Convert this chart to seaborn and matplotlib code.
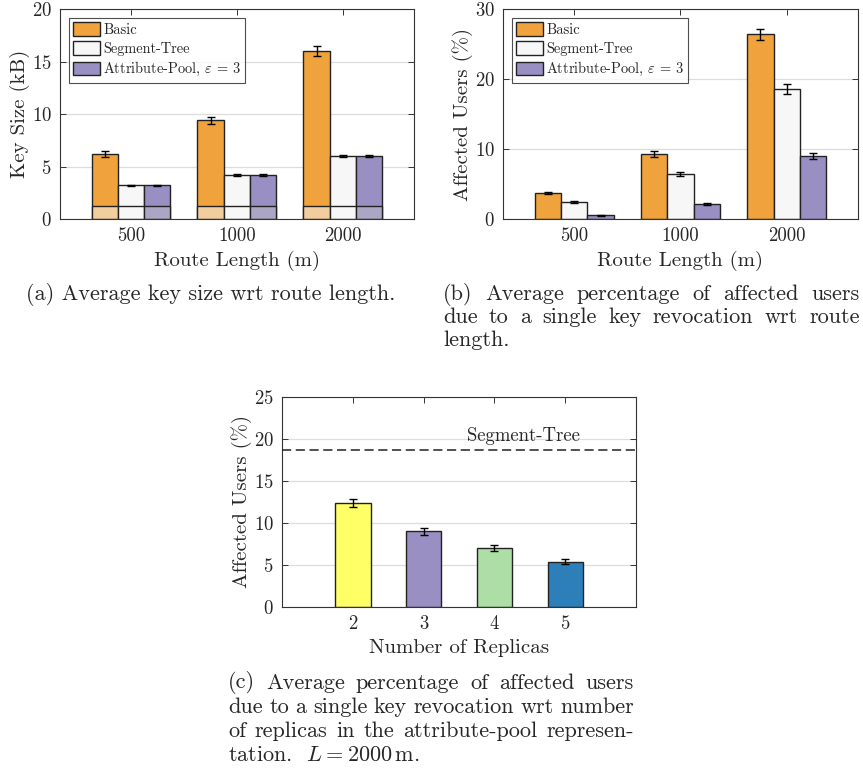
import numpy as np
import pandas as pd
import matplotlib
matplotlib.use("Agg")
import matplotlib.pyplot as plt
import seaborn as sns
from matplotlib.patches import Patch
from matplotlib.container import BarContainer

sns.set_theme(style="white")
plt.rcParams['font.family'] = ['cmr10', 'DejaVu Serif']
plt.rcParams['mathtext.fontset'] = 'cm'
plt.rcParams['axes.unicode_minus'] = False
plt.rcParams['axes.formatter.use_mathtext'] = True

# ---------------- data ----------------
route_lengths = ["500", "1000", "2000"]
methods = ["Basic", "Segment-Tree", "Attribute-Pool, $\\varepsilon$ = 3"]

key_basic = [6.2, 9.4, 16.0]
key_seg = [3.2, 4.2, 6.0]
key_attr = [3.2, 4.2, 6.0]
key_basic_err = [0.3, 0.35, 0.45]
key_seg_err = [0.08, 0.1, 0.12]
key_attr_err = [0.08, 0.1, 0.12]
key_base = [1.2, 1.2, 1.2]

aff_basic = [3.7, 9.3, 26.4]
aff_seg = [2.4, 6.4, 18.6]
aff_attr = [0.55, 2.2, 9.0]
aff_basic_err = [0.2, 0.4, 0.8]
aff_seg_err = [0.12, 0.3, 0.7]
aff_attr_err = [0.08, 0.15, 0.4]

replicas = ["2", "3", "4", "5"]
rep_aff = [12.4, 9.0, 7.0, 5.4]
rep_err = [0.5, 0.4, 0.35, 0.3]
segtree_ref = 18.7

caption_a = ["(a) Average key size wrt route length."]
caption_b = ["(b) Average percentage of affected users",
             "due to a single key revocation wrt route",
             "length."]
caption_c = ["(c) Average percentage of affected users",
             "due to a single key revocation wrt number",
             "of replicas in the attribute-pool represen-",
             "tation.  $L = 2000\\,\\mathrm{m}$."]

col_basic = "#F0A33C"
col_seg = "#F7F7F7"
col_attr = "#9A8FC3"
col_basic_light = "#F2CE9E"
col_seg_light = "#F7F7F7"
col_attr_light = "#ABA6C4"
rep_colors = ["#FFFF66", "#9A8FC3", "#ADDEA5", "#2C7FB8"]

EDGE = "#222222"
SPINE = "#333333"
W, H = 863, 771


def bar_containers(ax):
    return [c for c in ax.containers if isinstance(c, BarContainer)]


def style_axes(ax, ymax, ystep):
    ax.set_ylim(0, ymax)
    ax.set_yticks(np.arange(0, ymax + 0.01, ystep))
    ax.yaxis.grid(True, color="#DDDDDD", lw=0.9)
    ax.xaxis.grid(False)
    ax.set_axisbelow(True)
    for s in ax.spines.values():
        s.set_visible(True)
        s.set_color(SPINE)
        s.set_linewidth(0.8)
    ax.tick_params(direction="in", top=True, right=True, left=True, bottom=True,
                   length=4, width=0.7, color=SPINE, labelsize=13.5, pad=6)


def grouped(ax, vals, errs, colors, light, base):
    rows = []
    for m, v in zip(methods, vals):
        for r, y in zip(route_lengths, v):
            rows.append({"route": r, "method": m, "value": y})
    df = pd.DataFrame(rows)
    sns.barplot(data=df, x="route", y="value", hue="method", order=route_lengths,
                hue_order=methods, palette=colors, width=0.745, errorbar=None,
                edgecolor=EDGE, linewidth=1.0, saturation=1, ax=ax, legend=False)
    conts = bar_containers(ax)
    if base is not None:
        rows2 = []
        for m in methods:
            for r, y in zip(route_lengths, base):
                rows2.append({"route": r, "method": m, "value": y})
        df2 = pd.DataFrame(rows2)
        sns.barplot(data=df2, x="route", y="value", hue="method", order=route_lengths,
                    hue_order=methods, palette=light, width=0.745, errorbar=None,
                    edgecolor=EDGE, linewidth=1.0, saturation=1, ax=ax, legend=False)
    for cont, e in zip(conts, errs):
        xs = [p.get_x() + p.get_width() / 2 for p in cont.patches]
        ys = [p.get_height() for p in cont.patches]
        ax.errorbar(xs, ys, yerr=e, fmt="none", ecolor="black", elinewidth=1.0,
                    capsize=3, capthick=1.0, zorder=5)
    ax.set_xlim(-0.67, 2.67)
    ax.set_xlabel("Route Length (m)", fontsize=15)
    handles = [Patch(facecolor=c, edgecolor=EDGE, linewidth=1.0) for c in colors]
    leg = ax.legend(handles, methods, loc="upper left", fontsize=10.4,
                    frameon=True, fancybox=False, edgecolor="#222222",
                    handlelength=1.85, handleheight=1.05, handletextpad=0.25,
                    labelspacing=0.3, borderpad=0.3, borderaxespad=0.6)
    leg.get_frame().set_linewidth(0.8)


fig = plt.figure(figsize=(8.63, 7.71), dpi=100)

# (a)
ax1 = fig.add_axes([0.0695, 0.716, 0.4102, 0.272])
style_axes(ax1, 20, 5)
grouped(ax1, [key_basic, key_seg, key_attr], [key_basic_err, key_seg_err, key_attr_err],
        [col_basic, col_seg, col_attr], [col_basic_light, col_seg_light, col_attr_light], key_base)
ax1.set_ylabel("Key Size (kB)", fontsize=15, labelpad=1)

# (b)
ax2 = fig.add_axes([0.5828, 0.716, 0.4114, 0.272])
style_axes(ax2, 30, 10)
grouped(ax2, [aff_basic, aff_seg, aff_attr], [aff_basic_err, aff_seg_err, aff_attr_err],
        [col_basic, col_seg, col_attr], None, None)
ax2.set_ylabel("Affected Users (%)", fontsize=15, labelpad=1)

# (c)
ax3 = fig.add_axes([0.3268, 0.2127, 0.4102, 0.2724])
style_axes(ax3, 25, 5)
dfc = pd.DataFrame({"rep": replicas, "value": rep_aff})
sns.barplot(data=dfc, x="rep", y="value", hue="rep", order=replicas, hue_order=replicas,
            palette=rep_colors, width=0.5, errorbar=None, edgecolor=EDGE, linewidth=1.0,
            saturation=1, ax=ax3, legend=False)
patches3 = [p for c in bar_containers(ax3) for p in c.patches if p.get_height() > 0]
patches3.sort(key=lambda p: p.get_x())
xs3 = [p.get_x() + p.get_width() / 2 for p in patches3]
ys3 = [p.get_height() for p in patches3]
ax3.errorbar(xs3, ys3, yerr=rep_err, fmt="none", ecolor="black",
             elinewidth=1.0, capsize=3, capthick=1.0, zorder=5)
ax3.set_xlim(-1, 4)
ax3.axhline(segtree_ref, color="#222222", lw=1.1, ls=(0, (6, 3)), zorder=4)
ax3.text(2.41, 19.3, "Segment-Tree", ha="center", va="bottom", fontsize=13.5)
ax3.set_xlabel("Number of Replicas", fontsize=15)
ax3.set_ylabel("Affected Users (%)", fontsize=15, labelpad=1)

# captions (justified like the LaTeX source)
cap = 16
renderer = fig.canvas.get_renderer()


def caption(lines, x0, x1, ys, justify_last=False):
    for i, (line, y) in enumerate(zip(lines, ys)):
        last = (i == len(lines) - 1)
        if last and not justify_last:
            fig.text(x0 / W, 1 - y / H, line, fontsize=cap, va="center")
            continue
        words = line.split(" ")
        texts = [fig.text(0, 1 - y / H, w, fontsize=cap, va="center") for w in words]
        widths = [t.get_window_extent(renderer).width for t in texts]
        gap = (x1 - x0 - sum(widths)) / max(len(words) - 1, 1)
        x = x0
        for t, w in zip(texts, widths):
            t.set_x(x / W)
            x += w + gap


caption(caption_a, 26, 398, [295], justify_last=False)
caption(caption_b, 443, 860, [294, 317, 340])
caption(caption_c, 228, 634, [683, 707, 731, 755])

fig.savefig("out.png", dpi=100)
